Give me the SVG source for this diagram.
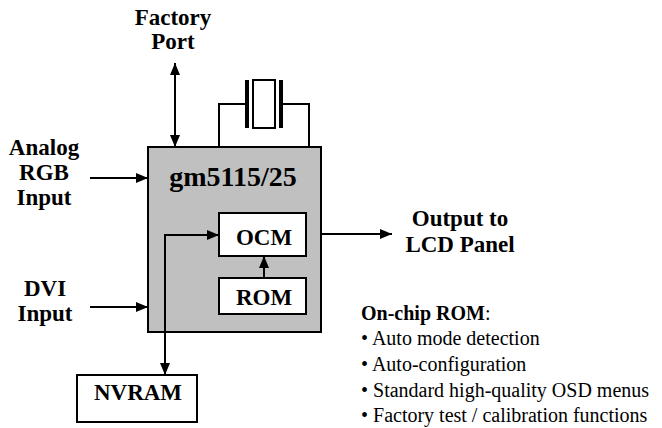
<svg xmlns="http://www.w3.org/2000/svg" width="662" height="428" viewBox="0 0 662 428">
<defs>
<style>
.lbl{font-family:"Liberation Serif","Times New Roman",serif;font-weight:bold;font-size:23px;fill:#000;text-anchor:middle}
.ttl{font-family:"Liberation Serif","Times New Roman",serif;font-weight:bold;font-size:28px;fill:#000;text-anchor:middle}
.lst{font-family:"Liberation Serif","Times New Roman",serif;font-size:20px;fill:#000}
.box{fill:#fff;stroke:#000;stroke-width:2}
.wire{fill:none;stroke:#000;stroke-width:2}
</style>
<marker id="ah" viewBox="0 0 12 10" refX="12" refY="5" markerWidth="12" markerHeight="10" markerUnits="userSpaceOnUse" orient="auto-start-reverse">
<path d="M0,0 L12,5 L0,10 z" fill="#000"/>
</marker>
</defs>
<rect width="662" height="428" fill="#fff"/>

<g id="chip">
<rect x="148" y="147" width="173" height="185" fill="#c0c0c0" stroke="#000" stroke-width="2"/>
<text class="ttl" x="233" y="186">gm5115/25</text>
</g>

<g id="ocm">
<rect class="box" x="219" y="213" width="87" height="43"/>
<text class="lbl" x="264" y="245">OCM</text>
</g>

<g id="rom">
<rect class="box" x="219" y="278" width="87" height="36"/>
<text class="lbl" x="264" y="305">ROM</text>
</g>

<g id="nvram">
<rect class="box" x="77" y="375" width="120" height="47"/>
<text class="lbl" x="138" y="400">NVRAM</text>
</g>

<g id="crystal">
<rect x="245" y="80" width="4" height="48" fill="#000"/>
<rect x="279" y="80" width="4" height="48" fill="#000"/>
<rect x="253" y="80" width="22" height="48" fill="#fff" stroke="#000" stroke-width="2"/>
</g>

<g id="labels">
<text class="lbl" x="173" y="25">Factory</text>
<text class="lbl" x="173" y="49">Port</text>
<text class="lbl" x="44" y="155">Analog</text>
<text class="lbl" x="44" y="180">RGB</text>
<text class="lbl" x="44" y="205">Input</text>
<text class="lbl" x="45" y="296">DVI</text>
<text class="lbl" x="45" y="321">Input</text>
<text class="lbl" x="460" y="226">Output to</text>
<text class="lbl" x="460" y="252">LCD Panel</text>
</g>

<g id="rom-notes">
<text class="lst" x="361" y="320"><tspan font-weight="bold">On-chip ROM</tspan>:</text>
<text class="lst" x="361" y="345">• Auto mode detection</text>
<text class="lst" x="361" y="371">• Auto-configuration</text>
<text class="lst" x="361" y="397">• Standard high-quality OSD menus</text>
<text class="lst" x="361" y="422">• Factory test / calibration functions</text>
</g>

<g id="connectors">
<path class="wire" d="M175,63 V147" marker-start="url(#ah)" marker-end="url(#ah)"/>
<path class="wire" d="M219,147 V104 H245"/>
<path class="wire" d="M283,104 H309 V147"/>
<path class="wire" d="M90,178 H148" marker-end="url(#ah)"/>
<path class="wire" d="M90,307 H148" marker-end="url(#ah)"/>
<path class="wire" d="M321,234 H392" marker-end="url(#ah)"/>
<path class="wire" d="M264,278 V256" marker-end="url(#ah)"/>
<path class="wire" d="M165,375 V235 H219" marker-start="url(#ah)" marker-end="url(#ah)"/>
</g>
</svg>
